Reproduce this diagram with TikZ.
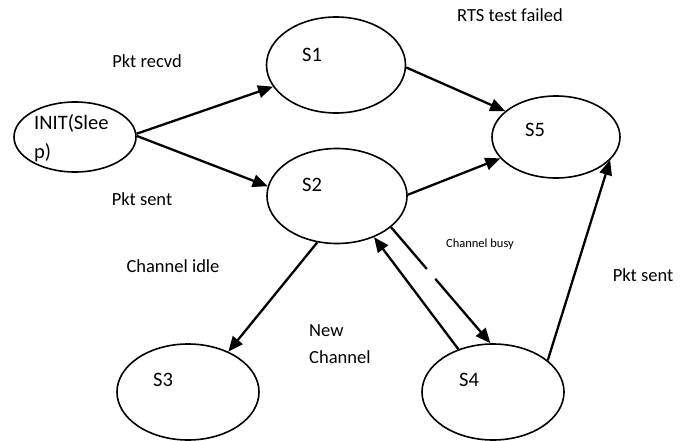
\documentclass[tikz,border=0pt]{standalone}
\usepackage{fontspec}
\setmainfont{Carlito}
\usetikzlibrary{shapes.geometric,arrows.meta}
\begin{document}
\begin{tikzpicture}[x=1pt,y=-1pt,
  state/.style={draw, ellipse, line width=1.6pt, inner sep=0pt},
  lbl/.style={font=\fontsize{18.5pt}{22pt}\selectfont, inner sep=0pt},
  biglbl/.style={font=\fontsize{20.5pt}{24pt}\selectfont, inner sep=0pt},
  smalllbl/.style={font=\fontsize{12.5pt}{15pt}\selectfont, inner sep=0pt},
  conn/.style={line width=2.3pt, -{Triangle[length=15pt,width=12.5pt]}}
]
\useasboundingbox (0,0) rectangle (688,441);
% states
\node[state, minimum width=122pt, minimum height=70pt] (init) at (75,137) {};
\node[state, minimum width=139pt, minimum height=96pt] (s1) at (336,65) {};
\node[state, minimum width=140pt, minimum height=95pt] (s2) at (337,196) {};
\node[state, minimum width=142pt, minimum height=96pt] (s3) at (188,392) {};
\node[state, minimum width=142pt, minimum height=96pt] (s4) at (493,392) {};
\node[state, minimum width=128pt, minimum height=82pt] (s5) at (556,137) {};
% state texts
\node[biglbl, anchor=west] (tinit1) at (34,123) {INIT(Slee};
\node[biglbl, anchor=west] (tinit2) at (34,153) {p)};
\node[biglbl] (ts1) at (312,55) {S1};
\node[biglbl] (ts2) at (312,185) {S2};
\node[biglbl] (ts3) at (163,380) {S3};
\node[biglbl] (ts4) at (469,380) {S4};
\node[biglbl] (ts5) at (535,130) {S5};
% connectors
\draw[conn] (init.3) -- (s1.199);
\draw[conn] (init.1) -- (s2.172);
\draw[conn] (s1.-2) -- (s5.153);
\draw[conn] (s2.1) -- (s5.201);
\draw[conn] (s2.247) -- (s3.45);
\draw[conn, dash pattern=on 55pt off 13pt on 300pt] (s2.-30) -- (s4.93);
\draw[conn] (s4.129) -- (s2.-48);
\draw[conn] (s4.30) -- (s5.-23);
% labels
\node[lbl] (lrecvd) at (147,61) {Pkt recvd};
\node[lbl] (lsent1) at (142,199) {Pkt sent};
\node[lbl] (lrts) at (510,15) {RTS test failed};
\node[lbl] (lidle) at (173,266) {Channel idle};
\node[lbl, anchor=west] (lnew1) at (309,331) {New};
\node[lbl, anchor=west] (lnew2) at (309,357) {Channel};
\node[smalllbl] (lbusy) at (480,244) {Channel busy};
\node[lbl] (lsent2) at (643,275) {Pkt sent};
\end{tikzpicture}
\end{document}
